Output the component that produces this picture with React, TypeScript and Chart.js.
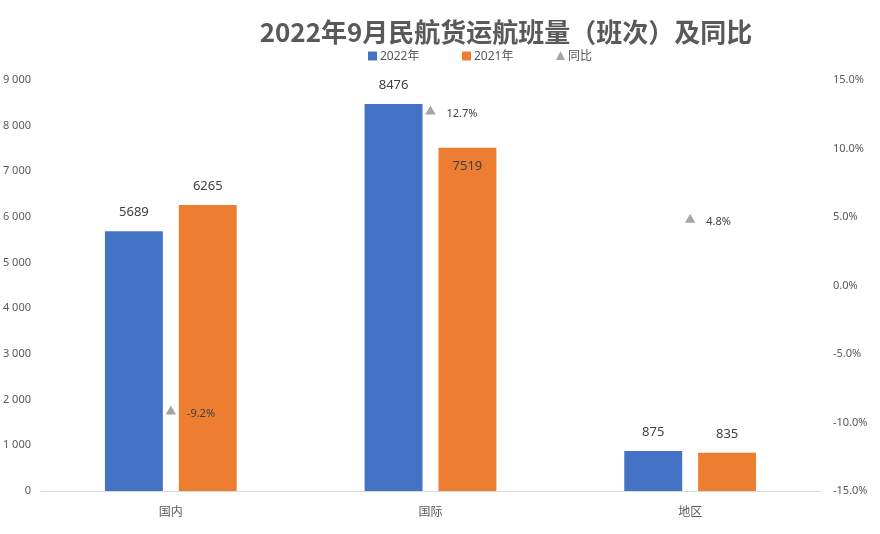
import React, { useEffect, useRef } from "react";
import { Chart, registerables } from "chart.js";

Chart.register(...registerables);

const TITLE = "2022年9月民航货运航班量（班次）及同比";
const categories = ["国内", "国际", "地区"];
const series2022 = [5689, 8476, 875];
const series2021 = [6265, 7519, 835];
const yoyPct = [-9.2, 12.7, 4.8];
const seriesNames = ["2022年", "2021年", "同比"];
const leftTicks = [0, 1000, 2000, 3000, 4000, 5000, 6000, 7000, 8000, 9000];
const rightTicks = [-15, -10, -5, 0, 5, 10, 15];

const BLUE = "#4472C4";
const ORANGE = "#ED7D31";
const GRAY = "#A5A5A5";
const TEXT = "#404040";
const FONT = "'Noto Sans', 'Noto Sans CJK SC', sans-serif";
const CJK = "'Noto Sans CJK SC', 'Noto Sans', sans-serif";

const fmtThousands = (v: number) =>
  v === 0 ? "0" : `${Math.floor(v / 1000)} ${String(v % 1000).padStart(3, "0")}`;

const decorPlugin = {
  id: "decor",
  afterDatasetsDraw(chart: any) {
    const ctx = chart.ctx as CanvasRenderingContext2D;
    ctx.save();
    const lineMeta = chart.getDatasetMeta(2);
    const yoyBoxes: { x1: number; x2: number; y1: number; y2: number }[] = [];
    ctx.font = `11px ${FONT}`;
    ctx.fillStyle = TEXT;
    ctx.textBaseline = "middle";
    ctx.textAlign = "left";
    lineMeta.data.forEach((pt: any, i: number) => {
      const t = `${yoyPct[i].toFixed(1)}%`;
      const x = pt.x + 16;
      const y = pt.y + 2;
      ctx.fillText(t, x, y);
      const w = ctx.measureText(t).width;
      yoyBoxes.push({ x1: x, x2: x + w, y1: y - 8, y2: y + 8 });
    });
    ctx.font = `13px ${FONT}`;
    ctx.textAlign = "center";
    [0, 1].forEach((di) => {
      const meta = chart.getDatasetMeta(di);
      const vals = di === 0 ? series2022 : series2021;
      meta.data.forEach((bar: any, i: number) => {
        const t = String(vals[i]);
        const w = ctx.measureText(t).width;
        let y = bar.y - 19;
        const box = { x1: bar.x - w / 2, x2: bar.x + w / 2, y1: y - 9, y2: y + 9 };
        const hit = yoyBoxes.some(
          (b) => box.x1 < b.x2 && box.x2 > b.x1 && box.y1 < b.y2 + 12 && box.y2 > b.y1 - 12
        );
        if (hit) y = bar.y + 19;
        ctx.fillText(t, bar.x, y);
      });
    });
    ctx.restore();
  },
  afterDraw(chart: any) {
    const ctx = chart.ctx as CanvasRenderingContext2D;
    ctx.save();
    ctx.fillStyle = "#595959";
    ctx.font = `bold 26px ${CJK}`;
    ctx.textAlign = "center";
    ctx.textBaseline = "middle";
    ctx.fillText(TITLE, 506, 32);
    ctx.font = `12px ${FONT}`;
    ctx.textAlign = "left";
    const items = [
      { x: 368, color: BLUE, kind: "rect" },
      { x: 462, color: ORANGE, kind: "rect" },
      { x: 556, color: GRAY, kind: "tri" },
    ];
    const ly = 56;
    items.forEach((it, i) => {
      ctx.fillStyle = it.color;
      if (it.kind === "rect") {
        ctx.fillRect(it.x, ly - 4.5, 9, 9);
      } else {
        ctx.beginPath();
        ctx.moveTo(it.x + 4.5, ly - 5);
        ctx.lineTo(it.x + 9, ly + 4);
        ctx.lineTo(it.x, ly + 4);
        ctx.closePath();
        ctx.fill();
      }
      ctx.fillStyle = "#595959";
      ctx.fillText(seriesNames[i], it.x + 12, ly + 1);
    });
    ctx.restore();
  },
};

export default function App() {
  const ref = useRef<HTMLCanvasElement | null>(null);
  useEffect(() => {
    if (!ref.current) return;
    const chart = new Chart(ref.current, {
      type: "bar",
      data: {
        labels: categories,
        datasets: [
          {
            label: seriesNames[0],
            data: series2022,
            backgroundColor: BLUE,
            yAxisID: "y",
            categoryPercentage: 0.569,
            barPercentage: 0.784,
            order: 2,
          },
          {
            label: seriesNames[1],
            data: series2021,
            backgroundColor: ORANGE,
            yAxisID: "y",
            categoryPercentage: 0.569,
            barPercentage: 0.784,
            order: 2,
          },
          {
            type: "line",
            label: seriesNames[2],
            data: yoyPct,
            yAxisID: "y1",
            showLine: false,
            pointStyle: "triangle",
            pointRadius: 6,
            pointBackgroundColor: GRAY,
            pointBorderColor: GRAY,
            pointBorderWidth: 0,
            order: 1,
          } as any,
        ],
      },
      options: {
        animation: false,
        responsive: false,
        layout: { padding: { top: 80, left: 0, right: 0, bottom: 0 } },
        plugins: {
          legend: { display: false },
          title: { display: false },
          tooltip: { enabled: false },
        },
        scales: {
          x: {
            grid: { display: false, drawTicks: false },
            border: { display: true, color: "#D9D9D9", width: 1 },
            ticks: { color: "#595959", font: { family: CJK, size: 12 }, padding: 13 },
            afterFit: (s: any) => {
              s.height = 43;
            },
          },
          y: {
            position: "left",
            min: 0,
            max: 9000,
            afterBuildTicks: (s: any) => {
              s.ticks = leftTicks.map((v) => ({ value: v }));
            },
            grid: { display: false, drawTicks: false },
            border: { display: false },
            ticks: {
              color: "#595959",
              font: { family: FONT, size: 11 },
              padding: 10,
              callback: (v: any) => fmtThousands(Number(v)),
            },
            afterFit: (s: any) => {
              s.width = 41;
            },
          },
          y1: {
            position: "right",
            min: -15,
            max: 15,
            afterBuildTicks: (s: any) => {
              s.ticks = rightTicks.map((v) => ({ value: v }));
            },
            grid: { display: false, drawTicks: false },
            border: { display: false },
            ticks: {
              color: "#595959",
              font: { family: FONT, size: 11 },
              padding: 13,
              callback: (v: any) => `${Number(v).toFixed(1)}%`,
            },
            afterFit: (s: any) => {
              s.width = 60;
            },
          },
        },
      },
      plugins: [decorPlugin],
    });
    return () => chart.destroy();
  }, []);
  return (
    <div style={{ position: "absolute", left: 0, top: 0, width: 880, height: 534, background: "#fff" }}>
      <canvas ref={ref} width={880} height={534} style={{ width: 880, height: 534 }} />
    </div>
  );
}
